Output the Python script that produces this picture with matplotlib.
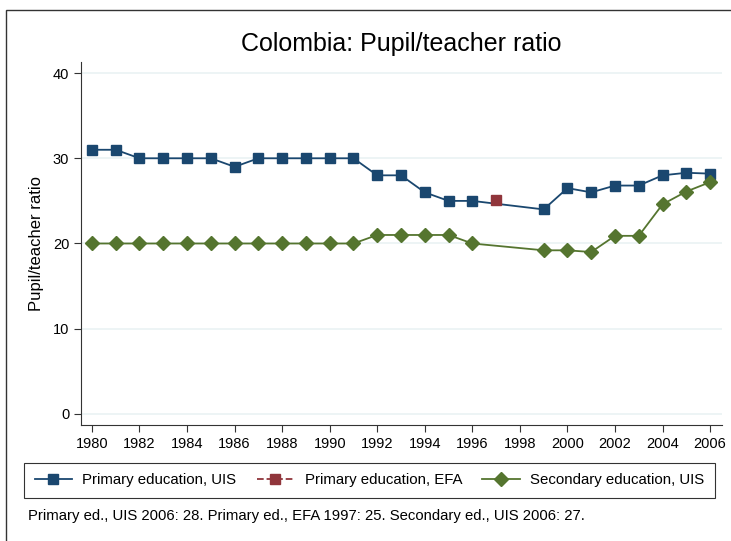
import matplotlib.pyplot as plt
import matplotlib.patches as mpatches
import numpy as np

plt.rcParams['font.family'] = ['Liberation Sans', 'DejaVu Sans']

# data
years_uis = [1980, 1981, 1982, 1983, 1984, 1985, 1986, 1987, 1988, 1989, 1990,
             1991, 1992, 1993, 1994, 1995, 1996, 1999, 2000, 2001, 2002, 2003,
             2004, 2005, 2006]
primary_uis = [31, 31, 30, 30, 30, 30, 29, 30, 30, 30, 30,
               30, 28, 28, 26, 25, 25, 24, 26.5, 26, 26.8, 26.8,
               28, 28.3, 28.2]
years_efa = [1997]
primary_efa = [25.1]
secondary_uis = [20, 20, 20, 20, 20, 20, 20, 20, 20, 20, 20,
                 20, 21, 21, 21, 21, 20, 19.2, 19.2, 19.0, 20.9, 20.9,
                 24.6, 26.1, 27.2]

navy = '#1a476f'
maroon = '#90353b'
green = '#55752f'

fig = plt.figure(figsize=(7.31, 5.41), dpi=100)
W, H = 731, 541
ax = fig.add_axes([81 / W, 1 - 425 / H, (722 - 81) / W, (425 - 62) / H])

l1, = ax.plot(years_uis, primary_uis, color=navy, marker='s', markersize=7.5,
              linewidth=1.3, label='Primary education, UIS')
l2, = ax.plot(years_efa, primary_efa, color=maroon, marker='s', markersize=7.5,
              linestyle='--', linewidth=1.3, label='Primary education, EFA')
l3, = ax.plot(years_uis, secondary_uis, color=green, marker='D', markersize=7.5,
              linewidth=1.3, label='Secondary education, UIS')

ax.set_xlim(1979.54, 2006.5)
ax.set_ylim(-1.3, 41.3)
ax.set_xticks(np.arange(1980, 2007, 2))
ax.set_yticks([0, 10, 20, 30, 40])
ax.yaxis.grid(True, color='#eaf2f3', linewidth=1.2)
ax.set_axisbelow(True)
for s in ['top', 'right']:
    ax.spines[s].set_visible(False)
ax.spines['left'].set_color('#333333')
ax.spines['bottom'].set_color('#333333')
ax.tick_params(labelsize=10.5, length=5, color='#333333')
ax.set_ylabel('Pupil/teacher ratio', fontsize=12, labelpad=6)
ax.set_title('Colombia: Pupil/teacher ratio', fontsize=18, pad=8)

leg = fig.legend(handles=[l1, l2, l3], loc='center', ncol=3,
                 bbox_to_anchor=(24 / W, 1 - 497 / H, (715 - 24) / W, (497 - 463) / H),
                 mode='expand', fontsize=10.8, frameon=True, fancybox=False,
                 edgecolor='black', handlelength=2.5, borderaxespad=0,
                 borderpad=0.7, handletextpad=0.7)
leg.get_frame().set_linewidth(0.8)

fig.text(28 / W, 1 - 516 / H, 'Primary ed., UIS 2006: 28. Primary ed., EFA 1997: 25. '
         'Secondary ed., UIS 2006: 27.', fontsize=10.7, va='center')

# outer frame
fig.patches.append(mpatches.Rectangle((6 / W, -0.1), 1.2, 1 - 10 / H + 0.1,
                                      transform=fig.transFigure, fill=False,
                                      edgecolor='#333333', linewidth=1))

fig.savefig('out.png', dpi=100)
